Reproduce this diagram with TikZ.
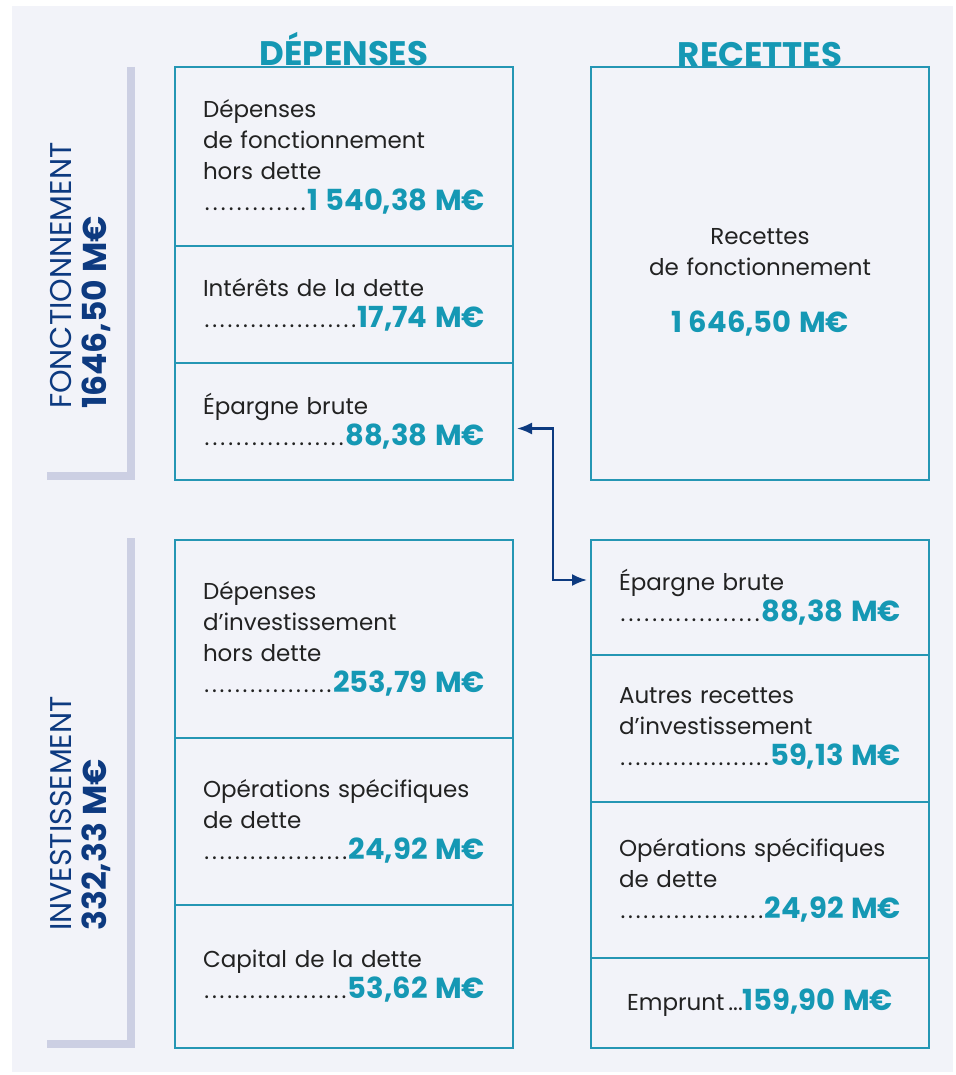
\documentclass[tikz,border=0pt]{standalone}
\usepackage{fontspec}
\setmainfont{Poppins}
\usetikzlibrary{positioning,arrows.meta}
\definecolor{fond}{HTML}{F2F3F9}
\definecolor{bleucanard}{HTML}{2596B4}
\definecolor{chiffre}{HTML}{1598B4}
\definecolor{marine}{HTML}{0D3A80}
\definecolor{grisbleu}{HTML}{CCCFE3}
\definecolor{texte}{HTML}{222222}
\newcommand{\pointilles}{\xleaders\hbox to 7.5pt{\hss.\hss}\hfill}
\newcommand{\chiffrefont}{\color{chiffre}\fontsize{29}{31}\selectfont\bfseries}
\newcommand{\montant}[1]{\par\hbox to \hsize{\pointilles{\chiffrefont #1}}}
\tikzset{
  cellule/.style={draw=bleucanard, line width=2.5pt, outer sep=0pt,
    minimum width=338pt, text width=282pt, inner xsep=28pt, inner ysep=0pt,
    align=left, text=texte, font=\fontsize{23}{31}\selectfont},
  entete/.style={text=chiffre, inner sep=0pt, font=\fontsize{34}{34}\selectfont\bfseries},
  etiquette/.style={rotate=90, align=left, inner sep=0pt, text=marine,
    font=\fontsize{30}{35}\selectfont},
  crochet/.style={draw=grisbleu, line width=8pt},
  fleche/.style={draw=marine, line width=2.2pt,
    {Latex[length=15pt,width=12pt]}-{Latex[length=15pt,width=12pt]}}
}
\begin{document}
\begin{tikzpicture}[x=1pt,y=-1pt]
\fill[white] (0,0) rectangle (955,1075);
\useasboundingbox (0,0) rectangle (955,1075);
\fill[fond] (12,6) rectangle (953,1072);
% crochets gris
\draw[crochet] (131,67) |- (47,476);
\draw[crochet] (131,538) |- (47,1044);
% etiquettes laterales
\node[etiquette, anchor=north west] (lblF) at (50,409) {FONCTIONNEMENT\\{\fontsize{33}{35}\selectfont\bfseries 1646,50 M€}};
\node[etiquette, anchor=north west] (lblI) at (50,931) {INVESTISSEMENT\\{\fontsize{33}{35}\selectfont\bfseries 332,33 M€}};
% depenses de fonctionnement
\node[cellule, anchor=north west, minimum height=179pt] (depF1) at (175,67)
  {Dépenses\\de fonctionnement\\hors dette\montant{1\hspace{7pt}540,38 M€}};
\node[cellule, below=0pt of depF1, minimum height=117pt] (depF2)
  {Intérêts de la dette\montant{17,74 M€}};
\node[cellule, below=0pt of depF2, minimum height=117pt] (depF3)
  {Épargne brute\montant{88,38 M€}};
% recettes de fonctionnement
\node[cellule, anchor=north west, minimum height=413pt, align=center] (recF) at (591,67)
  {\rule{0pt}{33pt}Recettes\\de fonctionnement\\[26pt]{\chiffrefont 1\hspace{7pt}646,50 M€}};
% depenses d'investissement
\node[cellule, anchor=north west, minimum height=198pt] (depI1) at (175,540)
  {Dépenses\\d’investissement\\hors dette\montant{253,79 M€}};
\node[cellule, below=0pt of depI1, minimum height=167pt] (depI2)
  {Opérations spécifiques\\de dette\montant{24,92 M€}};
\node[cellule, below=0pt of depI2, minimum height=143pt] (depI3)
  {Capital de la dette\montant{53,62 M€}};
% recettes d'investissement
\node[cellule, anchor=north west, minimum height=115pt] (recI1) at (591,540)
  {Épargne brute\montant{88,38 M€}};
\node[cellule, below=0pt of recI1, minimum height=147pt] (recI2)
  {Autres recettes\\d’investissement\montant{59,13 M€}};
\node[cellule, below=0pt of recI2, minimum height=156pt] (recI3)
  {Opérations spécifiques\\de dette\montant{24,92 M€}};
\node[cellule, below=0pt of recI3, minimum height=90pt, align=center] (recI4)
  {Emprunt\,...{\chiffrefont 159,90 M€}};
% titres
\node[entete, anchor=base] (hdDep) at (344,66) {DÉPENSES};
\node[entete, anchor=base] (hdRec) at (760,67) {RECETTES};
% epargne brute
\draw[fleche] ([xshift=4pt,yshift=-7pt]depF3.east) -- ++(36,0) |- ([xshift=-4pt,yshift=17.5pt]recI1.west);
\end{tikzpicture}
\end{document}
